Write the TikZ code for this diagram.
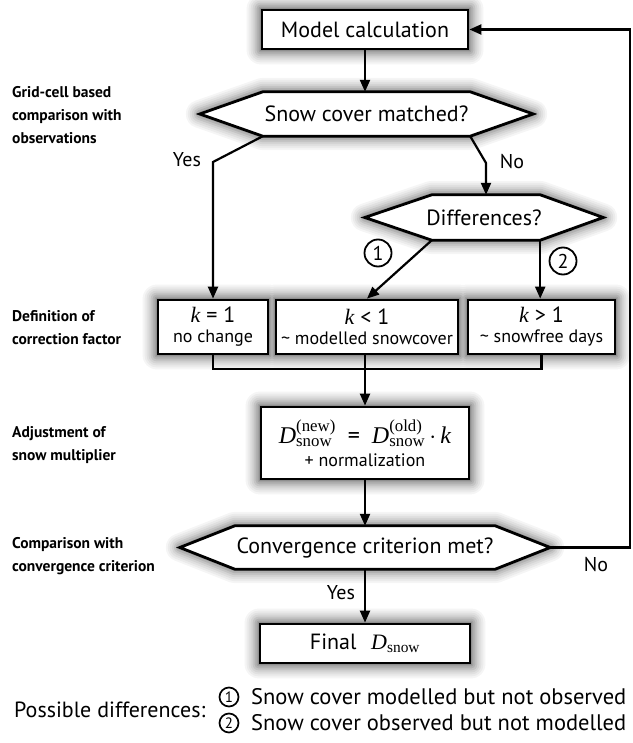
\documentclass[tikz,border=0pt]{standalone}
\usepackage{amsmath}
\usepackage{fontspec}
\setmainfont{PT Sans}
\newfontfamily\tmsfont{Liberation Serif}
\usetikzlibrary{arrows.meta,backgrounds}

\newcommand{\kvar}{{\tmsfont\itshape k}}
\newcommand{\Dsnow}[1]{\ensuremath{\text{\tmsfont\itshape D}^{\text{\tmsfont (#1)}}_{\text{\tmsfont snow}}}}
\newcommand{\Dfinal}{\ensuremath{\text{\tmsfont\itshape D}_{\text{\tmsfont snow}}}}

\begin{document}
\begin{tikzpicture}[x=1pt,y=-1pt,
  >={Triangle[length=12pt,width=10pt]},
  every node/.style={inner sep=0pt},
  box/.style={draw,line width=2.8pt,fill=white},
  hex/.style={draw,line width=2.8pt,fill=white,line join=miter},
  main/.style={font=\fontsize{22}{26}\selectfont},
  lbl/.style={font=\fontsize{20}{24}\selectfont},
  small/.style={font=\fontsize{18}{21}\selectfont,align=center},
  side/.style={font=\fontsize{15.5}{23}\selectfont\bfseries,align=left,anchor=west},
  num/.style={draw,circle,line width=1.8pt,minimum size=27pt,font=\fontsize{20}{20}\selectfont},
  leg/.style={draw,circle,line width=1.7pt,minimum size=19pt,font=\fontsize{15}{15}\selectfont},
  conn/.style={line width=2.2pt}]
\useasboundingbox (0,0) rectangle (632,743);

\node[box,main,minimum width=206,minimum height=39] (model) at (365,29.5) {Model calculation};
\node[main,minimum width=333,minimum height=44] (match) at (366.5,114) {Snow cover matched?};
\node[main,minimum width=238,minimum height=45] (diff) at (484,217.5) {Differences?};
\node[box,small,minimum width=110,minimum height=54] (kone) at (213,327) {{\fontsize{22}{22}\selectfont\kvar{} = 1}\\[-1pt]no change};
\node[box,small,minimum width=182,minimum height=54] (kless) at (367,327) {{\fontsize{22}{22}\selectfont\kvar{} < 1}\\[-1pt]\textasciitilde{} modelled snowcover};
\node[box,small,minimum width=147,minimum height=54] (kmore) at (541.5,327) {{\fontsize{22}{22}\selectfont\kvar{} > 1}\\[-1pt]\textasciitilde{} snowfree days};
\node[box,small,minimum width=208,minimum height=72] (adjust) at (365,443) {{\fontsize{24}{24}\selectfont\Dsnow{new}\enspace=\enspace\Dsnow{old}$\,\cdot\,$\kvar}\\[2pt]+ normalization};
\node[main,minimum width=370,minimum height=43] (conv) at (365,547.5) {Convergence criterion met?};
\node[box,main,minimum width=210,minimum height=39] (final) at (365,643.5) {Final\enspace\,{\fontsize{22}{22}\selectfont\Dfinal}};

\begin{scope}[on background layer]
\begin{scope}[shift={(3,9)}]
\foreach \w/\c in {28/4,24/8,20/12,16/17,12/23,8/30,4/37,1/44}{
\filldraw[draw=black!\c,fill=black!\c,line width=\w pt,line join=round]
  (model.north west) rectangle (model.south east)
  (kone.north west) rectangle (kone.south east)
  (kless.north west) rectangle (kless.south east)
  (kmore.north west) rectangle (kmore.south east)
  (adjust.north west) rectangle (adjust.south east)
  (final.north west) rectangle (final.south east)
  ([xshift=63]match.north west) -- ([xshift=-63]match.north east) -- (match.east) -- ([xshift=-63]match.south east) -- ([xshift=63]match.south west) -- (match.west) -- cycle
  ([xshift=67]diff.north west) -- ([xshift=-63]diff.north east) -- (diff.east) -- ([xshift=-63]diff.south east) -- ([xshift=67]diff.south west) -- (diff.west) -- cycle
  ([xshift=55]conv.north west) -- ([xshift=-55]conv.north east) -- (conv.east) -- ([xshift=-55]conv.south east) -- ([xshift=55]conv.south west) -- (conv.west) -- cycle;
}
\end{scope}
\filldraw[hex] ([xshift=63]match.north west) -- ([xshift=-63]match.north east) -- (match.east) -- ([xshift=-63]match.south east) -- ([xshift=63]match.south west) -- (match.west) -- cycle;
\filldraw[hex] ([xshift=67]diff.north west) -- ([xshift=-63]diff.north east) -- (diff.east) -- ([xshift=-63]diff.south east) -- ([xshift=67]diff.south west) -- (diff.west) -- cycle;
\filldraw[hex] ([xshift=55]conv.north west) -- ([xshift=-55]conv.north east) -- (conv.east) -- ([xshift=-55]conv.south east) -- ([xshift=55]conv.south west) -- (conv.west) -- cycle;
\end{scope}

\coordinate (yesturn) at (213,162);
\coordinate (noturn) at (486,163);
\coordinate (join) at (365,369);
\coordinate (loopx) at (630,0);

\draw[conn,->] (model.south) -- (model.south |- match.north);
\draw[conn,->] ([xshift=63]match.south west) -- (yesturn) -- (kone.north);
\draw[conn,->] ([xshift=-63]match.south east) -- (noturn) -- (noturn |- diff.north);
\draw[conn,->] ([xshift=67]diff.south west) -- (kless.north);
\draw[conn,->] ([xshift=-63]diff.south east) -- ([xshift=-63]diff.south east |- kmore.north);
\draw[conn] (kone.south) |- (join) -| (kmore.south);
\draw[conn,->] (kless.south -| join) -- (join) -- (join |- adjust.north);
\draw[conn,->] (adjust.south) -- (conv.north);
\draw[conn,->] (conv.east) -- (conv.east -| loopx) |- (model.east);
\draw[conn,->] (conv.south) -- (final.north);

\node[lbl] (yeslbl) at (187,160) {Yes};
\node[lbl] (nolbl) at (512,162) {No};
\node[num,fill=white] (one) at (378,253) {1};
\node[num,fill=white] (two) at (563,261) {2};
\node[lbl] (nolbl2) at (596,565) {No};
\node[lbl] (yeslbl2) at (341,593) {Yes};

\node[side] (grid) at (12,115) {Grid-cell based\\comparison with\\observations};
\node[side] (defn) at (12,328) {Definition of\\correction factor};
\node[side] (adj) at (12,445) {Adjustment of\\snow multiplier};
\node[side] (cmp) at (12,556) {Comparison with\\convergence criterion};

\node[main,anchor=west] (poss) at (14,710) {Possible differences:};
\node[leg] (lone) at (229,697) {1};
\node[leg] (ltwo) at (229,723) {2};
\node[font=\fontsize{22.5}{26}\selectfont,anchor=west] (lonetxt) at (251,697) {Snow cover modelled but not observed};
\node[font=\fontsize{22.5}{26}\selectfont,anchor=west] (ltwotxt) at (251,723) {Snow cover observed but not modelled};
\end{tikzpicture}
\end{document}
